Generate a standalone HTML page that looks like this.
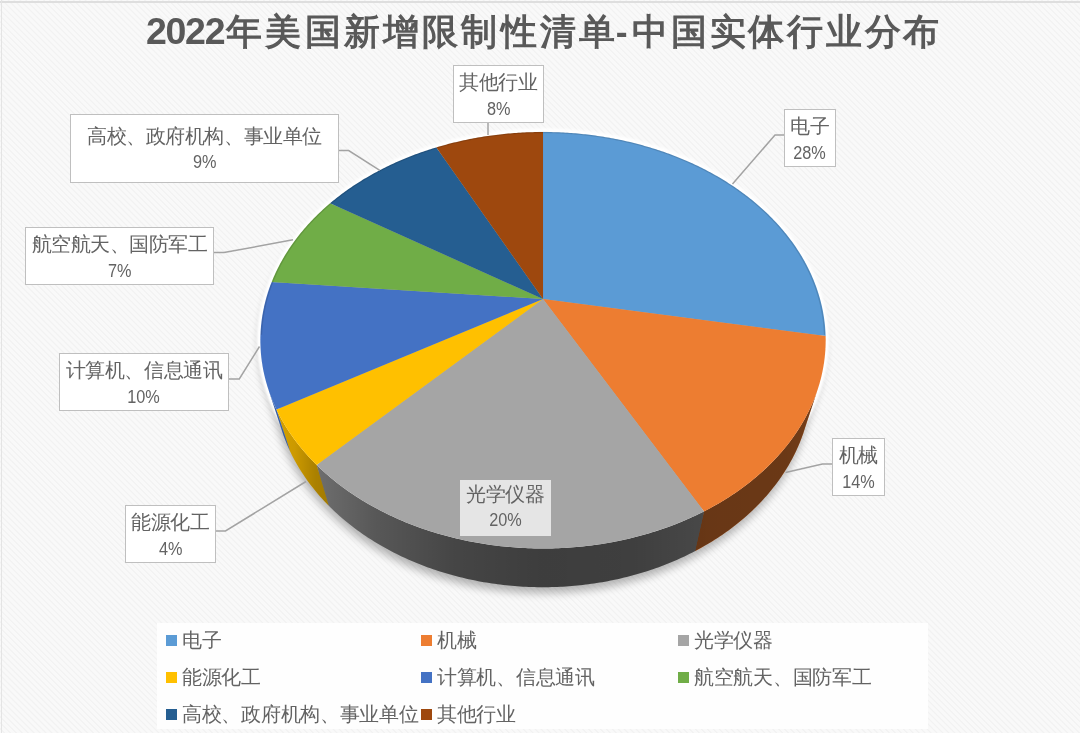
<!DOCTYPE html>
<html><head><meta charset="utf-8"><style>
html,body{margin:0;padding:0;}
body{width:1080px;height:733px;overflow:hidden;position:relative;font-family:"Liberation Sans",sans-serif;color:#595959;
background-color:#f8f8f8;
background-image:repeating-linear-gradient(45deg,#f9f9f9 0px,#f9f9f9 2.2px,#f2f2f2 2.9px,#f2f2f2 3.4px,#f9f9f9 4.2px);}
.bt{position:absolute;left:0;top:1px;width:1080px;height:2px;background:#dedede;}
.bl{position:absolute;left:0.5px;top:0;width:1.5px;height:733px;background:#e4e4e4;}
.title{position:absolute;left:146px;top:7.5px;font-size:35.5px;font-weight:bold;white-space:nowrap;line-height:46px;color:#595959;}
svg{position:absolute;left:0;top:0;}
.title,.lb,.li{filter:grayscale(1) blur(0.25px);}
.lb{position:absolute;box-sizing:border-box;border:1.5px solid #bfbfbf;background:#fff;text-align:center;white-space:nowrap;color:#636363;}
.lb .c{font-size:20px;letter-spacing:-0.45px;line-height:24px;height:24px;}
.lb .p{font-size:17.5px;line-height:24px;height:24px;margin-top:2.4px;}
.lb .p span{display:inline-block;transform:scaleX(0.93);}
.lg{position:absolute;left:157px;top:623px;width:771px;height:106px;background:#fefefe;}
.li{position:absolute;font-size:20px;letter-spacing:-0.3px;line-height:24px;white-space:nowrap;color:#636363;}
.mk{position:absolute;width:11px;height:11px;}
</style></head><body>
<div class="bt"></div><div class="bl"></div>
<div class="title"><span style="letter-spacing:-1.3px;font-size:37.5px;margin-right:2px">2022</span><span style="letter-spacing:3.2px">年美国新增限制性清单</span><span style="margin:0 4.5px 0 -2.5px">-</span><span style="letter-spacing:2.75px">中国实体行业分布</span></div>
<svg width="1080" height="733" viewBox="0 0 1080 733">
<defs><filter id="blur1" x="-10%" y="-10%" width="120%" height="130%"><feGaussianBlur stdDeviation="1"/></filter><filter id="blur" x="-10%" y="-10%" width="120%" height="130%"><feGaussianBlur stdDeviation="4"/></filter><linearGradient id="shade" gradientUnits="userSpaceOnUse" x1="268.30" y1="0" x2="817.73" y2="0"><stop offset="0.0012" stop-color="#000" stop-opacity="0.15"/><stop offset="0.0475" stop-color="#000" stop-opacity="0.2"/><stop offset="0.0854" stop-color="#000" stop-opacity="0.33"/><stop offset="0.1957" stop-color="#000" stop-opacity="0.47"/><stop offset="0.3386" stop-color="#000" stop-opacity="0.58"/><stop offset="0.5000" stop-color="#000" stop-opacity="0.63"/><stop offset="0.6614" stop-color="#000" stop-opacity="0.62"/><stop offset="0.8043" stop-color="#000" stop-opacity="0.56"/><stop offset="0.9426" stop-color="#000" stop-opacity="0.55"/><stop offset="0.9988" stop-color="#000" stop-opacity="0.5"/></linearGradient></defs>
<path d="M803.92,431.29 L803.30,433.15 L802.65,435.01 L801.98,436.87 L801.29,438.72 L800.57,440.58 L799.83,442.43 L799.06,444.28 L798.27,446.12 L797.46,447.96 L796.62,449.80 L795.76,451.64 L794.87,453.47 L793.96,455.30 L793.03,457.13 L792.07,458.95 L791.09,460.77 L790.08,462.58 L789.05,464.39 L788.00,466.19 L786.92,467.99 L785.82,469.78 L784.69,471.57 L783.54,473.35 L782.37,475.12 L781.17,476.89 L779.94,478.66 L778.70,480.41 L777.43,482.16 L776.13,483.91 L774.81,485.64 L773.47,487.37 L772.10,489.09 L770.71,490.80 L769.30,492.51 L767.86,494.20 L766.40,495.89 L764.91,497.57 L763.40,499.24 L761.87,500.90 L760.31,502.55 L758.73,504.19 L757.13,505.82 L755.50,507.45 L753.85,509.06 L752.18,510.66 L750.49,512.25 L748.77,513.83 L747.03,515.40 L745.27,516.95 L743.48,518.50 L741.67,520.03 L739.84,521.55 L737.99,523.06 L736.11,524.55 L734.22,526.04 L732.30,527.51 L730.36,528.96 L728.40,530.41 L726.42,531.84 L724.42,533.25 L722.39,534.66 L720.35,536.04 L718.28,537.42 L716.20,538.78 L714.09,540.12 L711.97,541.45 L709.82,542.76 L707.66,544.06 L705.47,545.34 L703.27,546.61 L701.04,547.86 L698.80,549.09 L696.54,550.31 L694.26,551.51 L691.97,552.70 L689.65,553.86 L687.32,555.01 L684.97,556.14 L682.60,557.26 L680.22,558.35 L677.82,559.43 L675.40,560.49 L672.97,561.53 L670.52,562.56 L668.05,563.56 L665.57,564.55 L663.08,565.51 L660.57,566.46 L658.04,567.39 L655.50,568.30 L652.95,569.19 L650.38,570.05 L647.80,570.90 L645.21,571.73 L642.60,572.54 L639.98,573.33 L637.35,574.10 L634.71,574.84 L632.05,575.57 L629.39,576.27 L626.71,576.96 L624.02,577.62 L621.33,578.26 L618.62,578.88 L615.90,579.48 L613.18,580.05 L610.44,580.61 L607.70,581.14 L604.94,581.65 L602.18,582.14 L599.42,582.61 L596.64,583.05 L593.86,583.47 L591.07,583.87 L588.28,584.25 L585.48,584.61 L582.67,584.94 L579.86,585.25 L577.04,585.53 L574.22,585.80 L571.40,586.04 L568.57,586.26 L565.74,586.45 L562.91,586.63 L560.07,586.78 L557.23,586.90 L554.39,587.01 L551.55,587.09 L548.71,587.14 L545.86,587.18 L543.02,587.19 L540.17,587.18 L537.33,587.14 L534.49,587.09 L531.64,587.01 L528.80,586.90 L525.96,586.78 L523.13,586.63 L520.29,586.45 L517.46,586.26 L514.63,586.04 L511.81,585.80 L508.99,585.53 L506.17,585.25 L503.36,584.94 L500.56,584.61 L497.76,584.25 L494.96,583.87 L492.17,583.47 L489.39,583.05 L486.62,582.61 L483.85,582.14 L481.09,581.65 L478.34,581.14 L475.59,580.61 L472.86,580.05 L470.13,579.48 L467.41,578.88 L464.71,578.26 L462.01,577.62 L459.32,576.96 L456.64,576.27 L453.98,575.57 L451.32,574.84 L448.68,574.10 L446.05,573.33 L443.43,572.54 L440.83,571.73 L438.23,570.90 L435.65,570.05 L433.08,569.19 L430.53,568.30 L427.99,567.39 L425.47,566.46 L422.96,565.51 L420.46,564.55 L417.98,563.56 L415.52,562.56 L413.07,561.53 L410.63,560.49 L408.22,559.43 L405.82,558.35 L403.43,557.26 L401.06,556.14 L398.71,555.01 L396.38,553.86 L394.07,552.70 L391.77,551.51 L389.49,550.31 L387.23,549.09 L384.99,547.86 L382.77,546.61 L380.56,545.34 L378.38,544.06 L376.21,542.76 L374.07,541.45 L371.94,540.12 L369.84,538.78 L367.75,537.42 L365.69,536.04 L363.64,534.66 L361.62,533.25 L359.61,531.84 L357.63,530.41 L355.67,528.96 L353.73,527.51 L351.81,526.04 L349.92,524.55 L348.04,523.06 L346.19,521.55 L344.36,520.03 L342.55,518.50 L340.77,516.95 L339.01,515.40 L337.26,513.83 L335.55,512.25 L333.85,510.66 L332.18,509.06 L330.53,507.45 L328.90,505.82 L327.30,504.19 L325.72,502.55 L324.17,500.90 L322.63,499.24 L321.12,497.57 L319.64,495.89 L318.18,494.20 L316.74,492.51 L315.32,490.80 L313.93,489.09 L312.56,487.37 L311.22,485.64 L309.90,483.91 L308.61,482.16 L307.34,480.41 L306.09,478.66 L304.87,476.89 L303.67,475.12 L302.49,473.35 L301.34,471.57 L300.21,469.78 L299.11,467.99 L298.03,466.19 L296.98,464.39 L295.95,462.58 L294.94,460.77 L293.96,458.95 L293.00,457.13 L292.07,455.30 L291.16,453.47 L290.28,451.64 L289.41,449.80 L288.58,447.96 L287.76,446.12 L286.97,444.28 L286.21,442.43 L285.47,440.58 L284.75,438.72 L284.05,436.87 L283.38,435.01 L282.74,433.15 L282.11,431.29 L268.30,389.24 L267.69,387.35 L267.11,385.46 L266.55,383.57 L266.02,381.67 L265.51,379.78 L265.02,377.89 L264.56,376.00 L264.13,374.11 L263.72,372.21 L263.33,370.32 L262.97,368.43 L262.63,366.54 L262.31,364.66 L262.02,362.77 L261.76,360.88 L261.51,359.00 L261.30,357.12 L261.10,355.24 L260.93,353.36 L260.78,351.48 L260.65,349.61 L260.55,347.74 L260.47,345.87 L260.41,344.01 L260.38,342.14 L260.37,340.29 L260.38,338.43 L260.41,336.58 L260.47,334.73 L260.54,332.88 L260.64,331.04 L260.76,329.20 L260.91,327.37 L261.07,325.54 L261.26,323.72 L261.47,321.90 L261.70,320.08 L261.95,318.27 L262.22,316.46 L262.51,314.66 L262.82,312.87 L263.15,311.08 L263.51,309.29 L263.88,307.51 L264.28,305.74 L264.69,303.97 L265.12,302.21 L265.58,300.45 L266.05,298.70 L266.54,296.95 L267.06,295.21 L267.59,293.48 L268.14,291.75 L268.71,290.03 L269.30,288.32 L269.90,286.61 L270.53,284.91 L271.17,283.22 L271.83,281.54 L272.51,279.86 L273.21,278.18 L273.93,276.52 L274.66,274.86 L275.41,273.21 L276.18,271.57 L276.97,269.93 L277.77,268.31 L278.59,266.69 L279.43,265.07 L280.28,263.47 L281.15,261.87 L282.04,260.28 L282.94,258.70 L283.86,257.13 L284.79,255.57 L285.74,254.01 L286.71,252.46 L287.69,250.92 L288.69,249.39 L289.70,247.87 L290.73,246.36 L291.77,244.85 L292.83,243.35 L293.90,241.87 L294.99,240.39 L296.09,238.92 L297.20,237.45 L298.33,236.00 L299.48,234.56 L300.64,233.12 L301.81,231.70 L302.99,230.28 L304.19,228.87 L305.40,227.47 L306.63,226.08 L307.87,224.70 L309.12,223.33 L310.38,221.97 L311.66,220.62 L312.95,219.28 L314.25,217.94 L315.57,216.62 L316.89,215.31 L318.23,214.00 L319.58,212.71 L320.95,211.42 L322.32,210.14 L323.71,208.88 L325.10,207.62 L326.51,206.38 L327.93,205.14 L329.36,203.91 L330.81,202.70 L332.26,201.49 L333.72,200.29 L335.20,199.10 L336.68,197.93 L338.18,196.76 L339.68,195.60 L341.20,194.45 L342.72,193.32 L344.26,192.19 L345.80,191.07 L347.35,189.97 L348.92,188.87 L350.49,187.78 L352.08,186.71 L353.67,185.64 L355.27,184.58 L356.88,183.54 L358.50,182.50 L360.12,181.48 L361.76,180.46 L363.40,179.46 L365.06,178.46 L366.72,177.48 L368.39,176.50 L370.07,175.54 L371.75,174.59 L373.45,173.64 L375.15,172.71 L376.86,171.79 L378.57,170.88 L380.30,169.98 L382.03,169.08 L383.76,168.20 L385.51,167.33 L387.26,166.47 L389.02,165.63 L390.79,164.79 L392.56,163.96 L394.34,163.14 L396.13,162.33 L397.92,161.54 L399.72,160.75 L401.52,159.98 L403.33,159.21 L405.15,158.46 L406.98,157.71 L408.80,156.98 L410.64,156.26 L412.48,155.54 L414.33,154.84 L416.18,154.15 L418.03,153.47 L419.90,152.80 L421.76,152.14 L423.63,151.49 L425.51,150.85 L427.39,150.22 L429.28,149.61 L431.17,149.00 L433.07,148.40 L434.97,147.82 L436.88,147.24 L438.79,146.68 L440.70,146.13 L442.62,145.58 L444.54,145.05 L446.47,144.53 L448.40,144.02 L450.33,143.52 L452.27,143.03 L454.21,142.55 L456.15,142.08 L458.10,141.62 L460.06,141.18 L462.01,140.74 L463.97,140.31 L465.93,139.90 L467.90,139.49 L469.86,139.10 L471.83,138.72 L473.81,138.34 L475.78,137.98 L477.76,137.63 L479.74,137.29 L481.73,136.96 L483.71,136.64 L485.70,136.33 L487.69,136.03 L489.69,135.74 L491.68,135.47 L493.68,135.20 L495.68,134.95 L497.68,134.70 L499.68,134.47 L501.69,134.24 L503.69,134.03 L505.70,133.83 L507.71,133.64 L509.72,133.45 L511.73,133.28 L513.74,133.12 L515.76,132.97 L517.77,132.84 L519.79,132.71 L521.80,132.59 L523.82,132.48 L525.84,132.39 L527.86,132.30 L529.88,132.23 L531.90,132.17 L533.92,132.11 L535.94,132.07 L537.96,132.04 L539.98,132.02 L542.01,132.01 L544.03,132.01 L546.05,132.02 L548.07,132.04 L550.09,132.07 L552.11,132.11 L554.13,132.17 L556.15,132.23 L558.17,132.30 L560.19,132.39 L562.21,132.48 L564.23,132.59 L566.25,132.71 L568.26,132.84 L570.28,132.97 L572.29,133.12 L574.30,133.28 L576.31,133.45 L578.33,133.64 L580.33,133.83 L582.34,134.03 L584.35,134.24 L586.35,134.47 L588.35,134.70 L590.36,134.95 L592.35,135.20 L594.35,135.47 L596.35,135.74 L598.34,136.03 L600.33,136.33 L602.32,136.64 L604.31,136.96 L606.29,137.29 L608.27,137.63 L610.25,137.98 L612.23,138.34 L614.20,138.72 L616.17,139.10 L618.14,139.49 L620.10,139.90 L622.06,140.31 L624.02,140.74 L625.98,141.18 L627.93,141.62 L629.88,142.08 L631.82,142.55 L633.77,143.03 L635.70,143.52 L637.64,144.02 L639.57,144.53 L641.49,145.05 L643.42,145.58 L645.33,146.13 L647.25,146.68 L649.16,147.24 L651.06,147.82 L652.96,148.40 L654.86,149.00 L656.75,149.61 L658.64,150.22 L660.52,150.85 L662.40,151.49 L664.27,152.14 L666.14,152.80 L668.00,153.47 L669.86,154.15 L671.71,154.84 L673.55,155.54 L675.39,156.26 L677.23,156.98 L679.06,157.71 L680.88,158.46 L682.70,159.21 L684.51,159.98 L686.31,160.75 L688.11,161.54 L689.91,162.33 L691.69,163.14 L693.47,163.96 L695.24,164.79 L697.01,165.63 L698.77,166.47 L700.52,167.33 L702.27,168.20 L704.01,169.08 L705.74,169.98 L707.46,170.88 L709.18,171.79 L710.89,172.71 L712.59,173.64 L714.28,174.59 L715.97,175.54 L717.64,176.50 L719.31,177.48 L720.98,178.46 L722.63,179.46 L724.27,180.46 L725.91,181.48 L727.54,182.50 L729.16,183.54 L730.77,184.58 L732.37,185.64 L733.96,186.71 L735.54,187.78 L737.11,188.87 L738.68,189.97 L740.23,191.07 L741.78,192.19 L743.31,193.32 L744.84,194.45 L746.35,195.60 L747.86,196.76 L749.35,197.93 L750.84,199.10 L752.31,200.29 L753.78,201.49 L755.23,202.70 L756.67,203.91 L758.10,205.14 L759.52,206.38 L760.93,207.62 L762.33,208.88 L763.71,210.14 L765.09,211.42 L766.45,212.71 L767.80,214.00 L769.14,215.31 L770.47,216.62 L771.78,217.94 L773.08,219.28 L774.37,220.62 L775.65,221.97 L776.91,223.33 L778.17,224.70 L779.40,226.08 L780.63,227.47 L781.84,228.87 L783.04,230.28 L784.23,231.70 L785.40,233.12 L786.56,234.56 L787.70,236.00 L788.83,237.45 L789.94,238.92 L791.05,240.39 L792.13,241.87 L793.21,243.35 L794.26,244.85 L795.31,246.36 L796.33,247.87 L797.35,249.39 L798.34,250.92 L799.32,252.46 L800.29,254.01 L801.24,255.57 L802.18,257.13 L803.09,258.70 L804.00,260.28 L804.88,261.87 L805.75,263.47 L806.61,265.07 L807.44,266.69 L808.26,268.31 L809.07,269.93 L809.85,271.57 L810.62,273.21 L811.37,274.86 L812.11,276.52 L812.82,278.18 L813.52,279.86 L814.20,281.54 L814.86,283.22 L815.51,284.91 L816.13,286.61 L816.74,288.32 L817.33,290.03 L817.90,291.75 L818.45,293.48 L818.98,295.21 L819.49,296.95 L819.98,298.70 L820.46,300.45 L820.91,302.21 L821.34,303.97 L821.76,305.74 L822.15,307.51 L822.53,309.29 L822.88,311.08 L823.21,312.87 L823.52,314.66 L823.82,316.46 L824.09,318.27 L824.34,320.08 L824.57,321.90 L824.77,323.72 L824.96,325.54 L825.13,327.37 L825.27,329.20 L825.39,331.04 L825.49,332.88 L825.57,334.73 L825.62,336.58 L825.66,338.43 L825.67,340.29 L825.66,342.14 L825.62,344.01 L825.56,345.87 L825.48,347.74 L825.38,349.61 L825.26,351.48 L825.11,353.36 L824.93,355.24 L824.74,357.12 L824.52,359.00 L824.28,360.88 L824.01,362.77 L823.72,364.66 L823.40,366.54 L823.07,368.43 L822.70,370.32 L822.32,372.21 L821.91,374.11 L821.47,376.00 L821.01,377.89 L820.53,379.78 L820.02,381.67 L819.48,383.57 L818.93,385.46 L818.34,387.35 L817.73,389.24Z" fill="#000" opacity="0.28" filter="url(#blur)" transform="translate(-1,6)"/>
<path d="M543.02,132.00 L545.03,132.01 L547.05,132.03 L549.07,132.05 L551.09,132.09 L553.10,132.14 L555.12,132.19 L557.14,132.26 L559.15,132.34 L561.17,132.43 L563.18,132.53 L565.20,132.65 L567.21,132.77 L569.22,132.90 L571.23,133.04 L573.24,133.20 L575.25,133.36 L577.26,133.54 L579.26,133.72 L581.27,133.92 L583.27,134.13 L585.27,134.34 L587.27,134.57 L589.27,134.81 L591.27,135.06 L593.26,135.32 L595.25,135.59 L597.24,135.87 L599.23,136.16 L601.22,136.47 L603.20,136.78 L605.19,137.10 L607.16,137.44 L609.14,137.78 L611.11,138.14 L613.09,138.50 L615.05,138.88 L617.02,139.27 L618.98,139.67 L620.94,140.07 L622.90,140.49 L624.85,140.92 L626.80,141.36 L628.75,141.81 L630.69,142.28 L632.63,142.75 L634.57,143.23 L636.50,143.72 L638.43,144.23 L640.36,144.74 L642.28,145.27 L644.20,145.80 L646.11,146.35 L648.02,146.91 L649.92,147.47 L651.82,148.05 L653.72,148.64 L655.61,149.24 L657.49,149.85 L659.38,150.47 L661.25,151.10 L663.12,151.74 L664.99,152.39 L666.85,153.06 L668.71,153.73 L670.56,154.41 L672.41,155.11 L674.25,155.81 L676.08,156.52 L677.91,157.25 L679.74,157.99 L681.55,158.73 L683.36,159.49 L685.17,160.26 L686.97,161.04 L688.76,161.82 L690.55,162.62 L692.33,163.43 L694.10,164.25 L695.87,165.08 L697.63,165.92 L699.39,166.77 L701.13,167.64 L702.87,168.51 L704.61,169.39 L706.33,170.28 L708.05,171.19 L709.76,172.10 L711.46,173.02 L713.16,173.96 L714.85,174.90 L716.53,175.86 L718.20,176.82 L719.86,177.80 L721.52,178.79 L723.16,179.78 L724.80,180.79 L726.43,181.80 L728.06,182.83 L729.67,183.87 L731.27,184.92 L732.87,185.97 L734.45,187.04 L736.03,188.12 L737.60,189.21 L739.16,190.30 L740.70,191.41 L742.24,192.53 L743.77,193.66 L745.29,194.80 L746.80,195.95 L748.30,197.10 L749.79,198.27 L751.27,199.45 L752.74,200.64 L754.20,201.84 L755.64,203.04 L757.08,204.26 L758.50,205.49 L759.92,206.73 L761.32,207.97 L762.71,209.23 L764.09,210.50 L765.46,211.77 L766.82,213.06 L768.16,214.35 L769.50,215.66 L770.82,216.97 L772.13,218.29 L773.42,219.63 L774.71,220.97 L775.98,222.32 L777.24,223.68 L778.48,225.05 L779.72,226.43 L780.94,227.82 L782.14,229.22 L783.34,230.63 L784.52,232.05 L785.68,233.47 L786.83,234.91 L787.97,236.35 L789.10,237.80 L790.21,239.26 L791.30,240.73 L792.38,242.21 L793.45,243.70 L794.50,245.20 L795.54,246.70 L796.56,248.21 L797.57,249.73 L798.56,251.27 L799.54,252.80 L800.50,254.35 L801.45,255.91 L802.37,257.47 L803.29,259.04 L804.19,260.62 L805.07,262.21 L805.93,263.80 L806.78,265.41 L807.61,267.02 L808.43,268.63 L809.22,270.26 L810.01,271.89 L810.77,273.54 L811.52,275.18 L812.24,276.84 L812.96,278.50 L813.65,280.17 L814.32,281.85 L814.98,283.53 L815.62,285.23 L816.24,286.92 L816.84,288.63 L817.43,290.34 L817.99,292.06 L818.54,293.78 L819.07,295.51 L819.57,297.25 L820.06,298.99 L820.53,300.74 L820.98,302.50 L821.41,304.26 L821.82,306.02 L822.21,307.79 L822.58,309.57 L822.93,311.36 L823.26,313.14 L823.57,314.94 L823.86,316.74 L824.13,318.54 L824.37,320.35 L824.60,322.16 L824.80,323.98 L824.99,325.80 L825.15,327.63 L825.29,329.46 L825.40,331.29 L825.50,333.13 L825.58,334.97 L825.63,336.82 L825.66,338.67 L825.67,340.52 L825.65,342.38 L825.61,344.24 L825.56,346.10 L825.47,347.96 L825.37,349.83 L825.24,351.70 L825.09,353.57 L824.91,355.45 L824.72,357.32 L824.49,359.20 L824.25,361.08 L823.98,362.97 L823.69,364.85 L823.37,366.73 L823.03,368.62 L822.67,370.51 L822.28,372.39 L821.87,374.28 L821.43,376.17 L820.97,378.06 L820.48,379.95 L819.97,381.84 L819.44,383.73 L818.88,385.61 L818.29,387.50 L817.69,389.39 L817.05,391.27 L816.39,393.16 L815.71,395.04 L815.00,396.92 L814.27,398.80 L813.51,400.68 L812.72,402.55 L811.91,404.43 L811.08,406.30 L810.21,408.16 L809.33,410.03 L808.42,411.89 L807.48,413.75 L806.52,415.60 L805.53,417.45 L804.51,419.30 L803.47,421.14 L802.41,422.98 L801.32,424.81 L800.20,426.64 L799.06,428.46 L797.89,430.28 L796.69,432.09 L795.47,433.90 L794.23,435.70 L792.96,437.49 L791.66,439.28 L790.34,441.06 L788.99,442.84 L787.62,444.60 L786.22,446.36 L784.79,448.12 L783.35,449.86 L781.87,451.60 L780.37,453.33 L778.84,455.05 L777.29,456.76 L775.71,458.46 L774.11,460.15 L772.49,461.84 L770.83,463.51 L769.16,465.18 L767.46,466.83 L765.73,468.48 L763.98,470.11 L762.20,471.73 L760.40,473.35 L758.58,474.95 L756.73,476.54 L754.86,478.11 L752.96,479.68 L751.04,481.23 L749.10,482.77 L747.13,484.30 L745.14,485.82 L743.13,487.32 L741.09,488.81 L739.03,490.29 L736.94,491.75 L734.84,493.20 L732.71,494.63 L730.56,496.05 L728.39,497.46 L726.19,498.85 L723.98,500.22 L721.74,501.58 L719.48,502.93 L717.20,504.26 L714.90,505.57 L712.57,506.87 L710.23,508.15 L707.87,509.41 L705.48,510.66 L703.08,511.89 L700.66,513.10 L698.22,514.30 L695.76,515.47 L693.28,516.63 L690.78,517.78 L688.26,518.90 L685.73,520.00 L683.17,521.09 L680.60,522.16 L678.02,523.21 L675.41,524.24 L672.79,525.25 L670.16,526.24 L667.50,527.21 L664.83,528.16 L662.15,529.10 L659.45,530.01 L656.74,530.90 L654.01,531.77 L651.26,532.62 L648.51,533.45 L645.74,534.26 L642.95,535.05 L640.16,535.81 L637.35,536.56 L634.53,537.28 L631.69,537.98 L628.85,538.66 L625.99,539.32 L623.12,539.96 L620.25,540.57 L617.36,541.16 L614.46,541.73 L611.56,542.28 L608.64,542.81 L605.72,543.31 L602.79,543.79 L599.85,544.24 L596.90,544.68 L593.95,545.09 L590.99,545.48 L588.02,545.84 L585.05,546.18 L582.07,546.50 L579.08,546.80 L576.09,547.07 L573.10,547.31 L570.10,547.54 L567.10,547.74 L564.10,547.92 L561.09,548.07 L558.08,548.20 L555.07,548.31 L552.06,548.39 L549.05,548.45 L546.03,548.49 L543.02,548.50 L540.00,548.49 L536.99,548.45 L533.97,548.39 L530.96,548.31 L527.95,548.20 L524.94,548.07 L521.93,547.92 L518.93,547.74 L515.93,547.54 L512.93,547.31 L509.94,547.07 L506.95,546.80 L503.97,546.50 L500.99,546.18 L498.02,545.84 L495.05,545.48 L492.09,545.09 L489.13,544.68 L486.19,544.24 L483.25,543.79 L480.31,543.31 L477.39,542.81 L474.48,542.28 L471.57,541.73 L468.67,541.16 L465.79,540.57 L462.91,539.96 L460.04,539.32 L457.19,538.66 L454.34,537.98 L451.51,537.28 L448.69,536.56 L445.88,535.81 L443.08,535.05 L440.30,534.26 L437.53,533.45 L434.77,532.62 L432.03,531.77 L429.30,530.90 L426.58,530.01 L423.88,529.10 L421.20,528.16 L418.53,527.21 L415.88,526.24 L413.24,525.25 L410.62,524.24 L408.02,523.21 L405.43,522.16 L402.86,521.09 L400.31,520.00 L397.77,518.90 L395.25,517.78 L392.76,516.63 L390.28,515.47 L387.82,514.30 L385.37,513.10 L382.95,511.89 L380.55,510.66 L378.17,509.41 L375.80,508.15 L373.46,506.87 L371.14,505.57 L368.84,504.26 L366.56,502.93 L364.30,501.58 L362.06,500.22 L359.84,498.85 L357.65,497.46 L355.47,496.05 L353.32,494.63 L351.19,493.20 L349.09,491.75 L347.01,490.29 L344.94,488.81 L342.91,487.32 L340.89,485.82 L338.90,484.30 L336.93,482.77 L334.99,481.23 L333.07,479.68 L331.17,478.11 L329.30,476.54 L327.45,474.95 L325.63,473.35 L323.83,471.73 L322.05,470.11 L320.30,468.48 L318.58,466.83 L316.88,465.18 L315.20,463.51 L313.55,461.84 L311.92,460.15 L310.32,458.46 L308.74,456.76 L307.19,455.05 L305.66,453.33 L304.16,451.60 L302.69,449.86 L301.24,448.12 L299.81,446.36 L298.41,444.60 L297.04,442.84 L295.69,441.06 L294.37,439.28 L293.07,437.49 L291.80,435.70 L290.56,433.90 L289.34,432.09 L288.14,430.28 L286.98,428.46 L285.83,426.64 L284.72,424.81 L283.63,422.98 L282.56,421.14 L281.52,419.30 L280.51,417.45 L279.52,415.60 L278.55,413.75 L277.62,411.89 L276.71,410.03 L275.82,408.16 L274.96,406.30 L274.12,404.43 L273.31,402.55 L272.53,400.68 L271.77,398.80 L271.03,396.92 L270.32,395.04 L269.64,393.16 L268.98,391.27 L268.35,389.39 L267.74,387.50 L267.15,385.61 L266.59,383.73 L266.06,381.84 L265.55,379.95 L265.06,378.06 L264.60,376.17 L264.17,374.28 L263.75,372.39 L263.37,370.51 L263.00,368.62 L262.66,366.73 L262.35,364.85 L262.05,362.97 L261.78,361.08 L261.54,359.20 L261.32,357.32 L261.12,355.45 L260.95,353.57 L260.79,351.70 L260.67,349.83 L260.56,347.96 L260.48,346.10 L260.42,344.24 L260.38,342.38 L260.37,340.52 L260.37,338.67 L260.41,336.82 L260.46,334.97 L260.53,333.13 L260.63,331.29 L260.75,329.46 L260.89,327.63 L261.05,325.80 L261.23,323.98 L261.44,322.16 L261.66,320.35 L261.91,318.54 L262.17,316.74 L262.46,314.94 L262.77,313.14 L263.10,311.36 L263.45,309.57 L263.82,307.79 L264.21,306.02 L264.62,304.26 L265.05,302.50 L265.50,300.74 L265.97,298.99 L266.46,297.25 L266.97,295.51 L267.49,293.78 L268.04,292.06 L268.60,290.34 L269.19,288.63 L269.79,286.92 L270.41,285.23 L271.05,283.53 L271.71,281.85 L272.38,280.17 L273.08,278.50 L273.79,276.84 L274.52,275.18 L275.26,273.54 L276.03,271.89 L276.81,270.26 L277.61,268.63 L278.42,267.02 L279.25,265.41 L280.10,263.80 L280.97,262.21 L281.85,260.62 L282.75,259.04 L283.66,257.47 L284.59,255.91 L285.53,254.35 L286.49,252.80 L287.47,251.27 L288.46,249.73 L289.47,248.21 L290.49,246.70 L291.53,245.20 L292.58,243.70 L293.65,242.21 L294.73,240.73 L295.83,239.26 L296.94,237.80 L298.06,236.35 L299.20,234.91 L300.35,233.47 L301.52,232.05 L302.70,230.63 L303.89,229.22 L305.10,227.82 L306.32,226.43 L307.55,225.05 L308.80,223.68 L310.06,222.32 L311.33,220.97 L312.61,219.63 L313.91,218.29 L315.22,216.97 L316.54,215.66 L317.87,214.35 L319.22,213.06 L320.57,211.77 L321.94,210.50 L323.32,209.23 L324.71,207.97 L326.12,206.73 L327.53,205.49 L328.96,204.26 L330.39,203.04 L331.84,201.84 L333.30,200.64 L334.76,199.45 L336.24,198.27 L337.73,197.10 L339.23,195.95 L340.74,194.80 L342.26,193.66 L343.79,192.53 L345.33,191.41 L346.88,190.30 L348.44,189.21 L350.00,188.12 L351.58,187.04 L353.17,185.97 L354.76,184.92 L356.37,183.87 L357.98,182.83 L359.60,181.80 L361.23,180.79 L362.87,179.78 L364.52,178.79 L366.17,177.80 L367.84,176.82 L369.51,175.86 L371.19,174.90 L372.88,173.96 L374.57,173.02 L376.27,172.10 L377.98,171.19 L379.70,170.28 L381.43,169.39 L383.16,168.51 L384.90,167.64 L386.65,166.77 L388.40,165.92 L390.16,165.08 L391.93,164.25 L393.70,163.43 L395.48,162.62 L397.27,161.82 L399.06,161.04 L400.86,160.26 L402.67,159.49 L404.48,158.73 L406.30,157.99 L408.12,157.25 L409.95,156.52 L411.79,155.81 L413.63,155.11 L415.47,154.41 L417.32,153.73 L419.18,153.06 L421.04,152.39 L422.91,151.74 L424.78,151.10 L426.66,150.47 L428.54,149.85 L430.43,149.24 L432.32,148.64 L434.21,148.05 L436.11,147.47 L438.02,146.91 L439.93,146.35 L441.84,145.80 L443.76,145.27 L445.68,144.74 L447.60,144.23 L449.53,143.72 L451.46,143.23 L453.40,142.75 L455.34,142.28 L457.28,141.81 L459.23,141.36 L461.18,140.92 L463.13,140.49 L465.09,140.07 L467.05,139.67 L469.01,139.27 L470.98,138.88 L472.95,138.50 L474.92,138.14 L476.89,137.78 L478.87,137.44 L480.85,137.10 L482.83,136.78 L484.81,136.47 L486.80,136.16 L488.79,135.87 L490.78,135.59 L492.77,135.32 L494.77,135.06 L496.76,134.81 L498.76,134.57 L500.76,134.34 L502.76,134.13 L504.77,133.92 L506.77,133.72 L508.78,133.54 L510.78,133.36 L512.79,133.20 L514.80,133.04 L516.81,132.90 L518.82,132.77 L520.84,132.65 L522.85,132.53 L524.87,132.43 L526.88,132.34 L528.90,132.26 L530.91,132.19 L532.93,132.14 L534.95,132.09 L536.96,132.05 L538.98,132.03 L541.00,132.01 L543.02,132.00Z" fill="none" stroke="#fff" stroke-width="7" opacity="1" filter="url(#blur1)"/>
<path d="M817.73,389.24 L817.10,391.14 L816.43,393.04 L815.74,394.95 L815.03,396.84 L814.29,398.74 L813.52,400.64 L812.73,402.53 L811.91,404.42 L811.07,406.31 L810.20,408.19 L809.30,410.08 L808.38,411.95 L807.44,413.83 L806.46,415.70 L805.46,417.57 L804.44,419.43 L803.39,421.29 L802.31,423.15 L801.20,425.00 L800.07,426.84 L798.92,428.68 L797.73,430.52 L796.53,432.35 L795.29,434.17 L794.03,435.98 L792.74,437.79 L791.43,439.60 L790.09,441.40 L788.72,443.19 L787.33,444.97 L785.91,446.74 L784.47,448.51 L783.00,450.27 L781.50,452.02 L779.98,453.77 L778.44,455.50 L776.86,457.22 L775.26,458.94 L773.64,460.65 L771.99,462.35 L770.32,464.03 L768.61,465.71 L766.89,467.38 L765.14,469.03 L763.36,470.68 L761.56,472.31 L759.74,473.94 L757.88,475.55 L756.01,477.15 L754.11,478.74 L752.19,480.31 L750.24,481.88 L748.26,483.43 L746.27,484.96 L744.25,486.49 L742.20,488.00 L740.14,489.50 L738.05,490.98 L735.93,492.45 L733.79,493.91 L731.63,495.35 L729.45,496.77 L727.25,498.18 L725.02,499.58 L722.77,500.96 L720.50,502.32 L718.21,503.67 L715.89,505.00 L713.56,506.32 L711.20,507.62 L708.82,508.90 L706.43,510.17 L704.01,511.42 L695.06,551.09 L697.35,549.88 L699.63,548.64 L701.88,547.39 L704.12,546.12 L706.33,544.84 L708.53,543.54 L710.71,542.22 L712.86,540.89 L715.00,539.55 L717.11,538.18 L719.21,536.81 L721.28,535.41 L723.34,534.01 L725.37,532.58 L727.38,531.15 L729.37,529.70 L731.34,528.24 L733.28,526.76 L735.21,525.27 L737.11,523.77 L738.99,522.25 L740.84,520.72 L742.68,519.18 L744.49,517.63 L746.28,516.06 L748.04,514.49 L749.79,512.90 L751.50,511.30 L753.20,509.69 L754.87,508.06 L756.52,506.43 L758.15,504.79 L759.75,503.14 L761.33,501.47 L762.88,499.80 L764.41,498.12 L765.92,496.43 L767.40,494.73 L768.86,493.02 L770.30,491.30 L771.71,489.58 L773.09,487.85 L774.46,486.10 L775.79,484.36 L777.11,482.60 L778.39,480.84 L779.66,479.06 L780.90,477.29 L782.11,475.50 L783.30,473.71 L784.47,471.92 L785.61,470.12 L786.73,468.31 L787.82,466.49 L788.89,464.68 L789.93,462.85 L790.95,461.02 L791.94,459.19 L792.91,457.35 L793.86,455.51 L794.78,453.67 L795.67,451.82 L796.54,449.97 L797.39,448.11 L798.21,446.25 L799.01,444.39 L799.79,442.53 L800.53,440.66 L801.26,438.79 L801.96,436.92 L802.64,435.05 L803.29,433.17 L803.92,431.29Z" fill="#ED7D31"/>
<path d="M704.01,511.42 L701.58,512.64 L699.14,513.85 L696.68,515.04 L694.20,516.21 L691.70,517.36 L689.18,518.49 L686.64,519.61 L684.08,520.71 L681.51,521.79 L678.92,522.85 L676.31,523.89 L673.69,524.91 L671.05,525.91 L668.39,526.89 L665.72,527.85 L663.03,528.79 L660.32,529.72 L657.60,530.62 L654.87,531.50 L652.12,532.36 L649.36,533.20 L646.58,534.01 L643.79,534.81 L640.99,535.59 L638.18,536.34 L635.35,537.07 L632.51,537.78 L629.66,538.47 L626.79,539.14 L623.92,539.78 L621.04,540.41 L618.14,541.01 L615.24,541.58 L612.32,542.14 L609.40,542.67 L606.47,543.18 L603.53,543.67 L600.58,544.13 L597.62,544.57 L594.66,544.99 L591.69,545.39 L588.71,545.76 L585.73,546.11 L582.74,546.43 L579.75,546.73 L576.75,547.01 L573.75,547.26 L570.74,547.49 L567.73,547.70 L564.72,547.88 L561.70,548.04 L558.68,548.18 L555.66,548.29 L552.64,548.38 L549.61,548.44 L546.59,548.48 L543.56,548.50 L540.54,548.49 L537.51,548.46 L534.49,548.40 L531.46,548.32 L528.44,548.22 L525.42,548.09 L522.40,547.94 L519.39,547.77 L516.38,547.57 L513.37,547.35 L510.36,547.10 L507.36,546.83 L504.37,546.54 L501.38,546.23 L498.39,545.89 L495.42,545.52 L492.44,545.14 L489.48,544.73 L486.52,544.29 L483.57,543.84 L480.62,543.36 L477.69,542.86 L474.76,542.33 L471.85,541.79 L468.94,541.22 L466.04,540.63 L463.15,540.01 L460.27,539.37 L457.41,538.72 L454.55,538.03 L451.71,537.33 L448.88,536.61 L446.06,535.86 L443.25,535.09 L440.45,534.30 L437.67,533.49 L434.91,532.66 L432.15,531.81 L429.41,530.94 L426.69,530.04 L423.98,529.13 L421.28,528.19 L418.61,527.24 L415.94,526.26 L413.30,525.27 L410.66,524.26 L408.05,523.22 L405.45,522.17 L402.88,521.10 L400.31,520.01 L397.77,518.90 L395.24,517.77 L392.74,516.62 L390.25,515.46 L387.78,514.28 L385.33,513.08 L382.90,511.86 L380.49,510.63 L378.10,509.37 L375.73,508.10 L373.37,506.82 L371.05,505.52 L368.74,504.20 L366.45,502.87 L364.18,501.52 L361.94,500.15 L359.71,498.77 L357.51,497.37 L355.33,495.96 L353.18,494.54 L351.04,493.10 L348.93,491.64 L346.84,490.17 L344.78,488.69 L342.73,487.19 L340.71,485.68 L338.72,484.16 L336.75,482.63 L334.80,481.08 L332.87,479.52 L330.97,477.94 L329.09,476.36 L327.24,474.76 L325.41,473.16 L323.61,471.54 L321.83,469.91 L320.08,468.27 L318.35,466.61 L316.65,464.95 L328.77,505.69 L330.40,507.32 L332.05,508.93 L333.73,510.54 L335.43,512.14 L337.15,513.72 L338.89,515.29 L340.66,516.86 L342.45,518.41 L344.26,519.94 L346.09,521.47 L347.95,522.98 L349.83,524.48 L351.73,525.97 L353.65,527.45 L355.60,528.91 L357.56,530.36 L359.55,531.79 L361.56,533.21 L363.59,534.62 L365.64,536.01 L367.71,537.39 L369.80,538.75 L371.91,540.10 L374.04,541.43 L376.19,542.75 L378.37,544.05 L380.56,545.34 L382.77,546.61 L385.00,547.86 L387.25,549.10 L389.51,550.32 L391.80,551.53 L394.10,552.71 L396.42,553.88 L398.76,555.04 L401.12,556.17 L403.50,557.29 L405.89,558.39 L408.30,559.47 L410.72,560.53 L413.16,561.57 L415.62,562.60 L418.09,563.61 L420.58,564.59 L423.08,565.56 L425.60,566.51 L428.14,567.44 L430.68,568.35 L433.24,569.24 L435.82,570.11 L438.41,570.96 L441.01,571.79 L443.63,572.60 L446.25,573.39 L448.89,574.16 L451.55,574.90 L454.21,575.63 L456.88,576.33 L459.57,577.02 L462.26,577.68 L464.97,578.32 L467.69,578.94 L470.41,579.54 L473.15,580.11 L475.89,580.67 L478.65,581.20 L481.41,581.71 L484.18,582.20 L486.95,582.66 L489.74,583.11 L492.53,583.53 L495.33,583.92 L498.13,584.30 L500.94,584.65 L503.75,584.98 L506.57,585.29 L509.40,585.57 L512.23,585.84 L515.06,586.07 L517.90,586.29 L520.74,586.48 L523.58,586.65 L526.43,586.80 L529.27,586.92 L532.12,587.02 L534.97,587.10 L537.83,587.15 L540.68,587.18 L543.53,587.19 L546.38,587.17 L549.24,587.14 L552.09,587.07 L554.94,586.99 L557.79,586.88 L560.63,586.75 L563.48,586.59 L566.32,586.42 L569.16,586.21 L571.99,585.99 L574.83,585.74 L577.65,585.47 L580.48,585.18 L583.29,584.87 L586.11,584.53 L588.92,584.17 L591.72,583.78 L594.51,583.38 L597.30,582.95 L600.08,582.50 L602.86,582.02 L605.62,581.53 L608.38,581.01 L611.13,580.47 L613.87,579.91 L616.60,579.32 L619.33,578.72 L622.04,578.09 L624.74,577.44 L627.43,576.77 L630.12,576.08 L632.79,575.37 L635.45,574.64 L638.09,573.88 L640.73,573.11 L643.35,572.31 L645.96,571.49 L648.56,570.66 L651.14,569.80 L653.71,568.92 L656.27,568.02 L658.81,567.11 L661.34,566.17 L663.85,565.22 L666.35,564.24 L668.84,563.25 L671.30,562.23 L673.75,561.20 L676.19,560.15 L678.61,559.08 L681.01,557.99 L683.40,556.89 L685.76,555.76 L688.12,554.62 L690.45,553.46 L692.76,552.29 L695.06,551.09Z" fill="#A5A5A5"/>
<path d="M316.65,464.95 L314.96,463.28 L313.31,461.59 L311.67,459.90 L310.07,458.19 L308.49,456.48 L306.93,454.75 L305.40,453.02 L303.89,451.28 L302.42,449.54 L300.96,447.78 L299.53,446.02 L298.13,444.24 L296.76,442.46 L295.41,440.68 L294.08,438.89 L292.78,437.09 L291.51,435.28 L290.27,433.47 L289.05,431.65 L287.85,429.83 L286.68,428.00 L285.54,426.16 L284.42,424.32 L283.33,422.48 L282.27,420.63 L281.23,418.77 L280.22,416.92 L279.23,415.05 L278.27,413.19 L277.34,411.32 L276.43,409.45 L290.07,451.20 L290.95,453.04 L291.86,454.88 L292.79,456.72 L293.75,458.55 L294.73,460.38 L295.74,462.20 L296.77,464.02 L297.82,465.83 L298.90,467.64 L300.00,469.44 L301.13,471.24 L302.28,473.03 L303.46,474.82 L304.66,476.60 L305.89,478.37 L307.14,480.14 L308.41,481.90 L309.71,483.65 L311.03,485.39 L312.38,487.13 L313.75,488.86 L315.14,490.58 L316.56,492.30 L318.00,494.00 L319.47,495.70 L320.96,497.39 L322.48,499.07 L324.01,500.74 L325.58,502.40 L327.16,504.05 L328.77,505.69Z" fill="#FFC000"/>
<path d="M276.43,409.45 L275.48,407.44 L274.57,405.43 L273.68,403.41 L272.82,401.39 L272.00,399.37 L271.20,397.35 L270.43,395.32 L269.69,393.30 L268.98,391.27 L268.30,389.24 L282.11,431.29 L282.79,433.30 L283.48,435.29 L284.21,437.29 L284.96,439.29 L285.75,441.28 L286.55,443.27 L287.39,445.26 L288.25,447.24 L289.15,449.22 L290.07,451.20Z" fill="#4472C4"/>
<path d="M817.73,389.24 L817.10,391.13 L816.44,393.01 L815.76,394.90 L815.05,396.78 L814.32,398.66 L813.56,400.54 L812.78,402.41 L811.97,404.29 L811.14,406.16 L810.28,408.03 L809.39,409.89 L808.48,411.76 L807.55,413.61 L806.58,415.47 L805.60,417.32 L804.58,419.17 L803.54,421.01 L802.48,422.85 L801.39,424.69 L800.27,426.52 L799.13,428.34 L797.97,430.16 L796.77,431.97 L795.55,433.78 L794.31,435.58 L793.04,437.38 L791.74,439.17 L790.42,440.95 L789.08,442.73 L787.70,444.50 L786.30,446.26 L784.88,448.01 L783.43,449.76 L781.96,451.50 L780.46,453.23 L778.93,454.95 L777.38,456.66 L775.80,458.37 L774.20,460.06 L772.58,461.75 L770.92,463.42 L769.25,465.09 L767.55,466.75 L765.82,468.39 L764.07,470.03 L762.30,471.65 L760.50,473.26 L758.67,474.87 L756.82,476.46 L754.95,478.04 L753.05,479.60 L751.13,481.16 L749.19,482.70 L747.22,484.23 L745.23,485.75 L743.22,487.25 L741.18,488.75 L739.12,490.22 L737.04,491.69 L734.93,493.14 L732.80,494.57 L730.65,495.99 L728.48,497.40 L726.28,498.79 L724.06,500.17 L721.83,501.53 L719.57,502.88 L717.28,504.21 L714.98,505.52 L712.66,506.82 L710.32,508.10 L707.95,509.37 L705.57,510.61 L703.16,511.85 L700.74,513.06 L698.30,514.26 L695.84,515.44 L693.36,516.60 L690.86,517.74 L688.34,518.86 L685.80,519.97 L683.25,521.06 L680.68,522.13 L678.09,523.18 L675.49,524.21 L672.86,525.22 L670.23,526.21 L667.57,527.19 L664.90,528.14 L662.22,529.07 L659.51,529.99 L656.80,530.88 L654.07,531.75 L651.32,532.60 L648.57,533.43 L645.79,534.24 L643.01,535.03 L640.21,535.80 L637.40,536.54 L634.58,537.27 L631.74,537.97 L628.90,538.65 L626.04,539.31 L623.17,539.95 L620.29,540.56 L617.40,541.16 L614.51,541.73 L611.60,542.27 L608.68,542.80 L605.76,543.30 L602.82,543.78 L599.88,544.24 L596.93,544.67 L593.98,545.08 L591.01,545.47 L588.04,545.84 L585.07,546.18 L582.09,546.50 L579.10,546.79 L576.11,547.06 L573.12,547.31 L570.12,547.54 L567.12,547.74 L564.11,547.92 L561.10,548.07 L558.09,548.20 L555.08,548.31 L552.07,548.39 L549.05,548.45 L546.03,548.49 L543.02,548.50 L540.00,548.49 L536.98,548.45 L533.97,548.39 L530.95,548.31 L527.94,548.20 L524.93,548.07 L521.92,547.92 L518.92,547.74 L515.91,547.54 L512.91,547.31 L509.92,547.06 L506.93,546.79 L503.94,546.50 L500.96,546.18 L497.99,545.84 L495.02,545.47 L492.06,545.08 L489.10,544.67 L486.15,544.24 L483.21,543.78 L480.28,543.30 L477.35,542.80 L474.44,542.27 L471.53,541.73 L468.63,541.16 L465.74,540.56 L462.86,539.95 L459.99,539.31 L457.14,538.65 L454.29,537.97 L451.46,537.27 L448.63,536.54 L445.82,535.80 L443.02,535.03 L440.24,534.24 L437.47,533.43 L434.71,532.60 L431.96,531.75 L429.23,530.88 L426.52,529.99 L423.82,529.07 L421.13,528.14 L418.46,527.19 L415.81,526.21 L413.17,525.22 L410.55,524.21 L407.94,523.18 L405.35,522.13 L402.78,521.06 L400.23,519.97 L397.69,518.86 L395.18,517.74 L392.68,516.60 L390.20,515.44 L387.73,514.26 L385.29,513.06 L382.87,511.85 L380.47,510.61 L378.08,509.37 L375.72,508.10 L373.37,506.82 L371.05,505.52 L368.75,504.21 L366.47,502.88 L364.21,501.53 L361.97,500.17 L359.75,498.79 L357.56,497.40 L355.38,495.99 L353.23,494.57 L351.10,493.14 L349.00,491.69 L346.91,490.22 L344.85,488.75 L342.82,487.25 L340.80,485.75 L338.81,484.23 L336.84,482.70 L334.90,481.16 L332.98,479.60 L331.08,478.04 L329.21,476.46 L327.36,474.87 L325.54,473.26 L323.74,471.65 L321.96,470.03 L320.21,468.39 L318.49,466.75 L316.78,465.09 L315.11,463.42 L313.46,461.75 L311.83,460.06 L310.23,458.37 L308.65,456.66 L307.10,454.95 L305.58,453.23 L304.08,451.50 L302.60,449.76 L301.15,448.01 L299.73,446.26 L298.33,444.50 L296.96,442.73 L295.61,440.95 L294.29,439.17 L292.99,437.38 L291.72,435.58 L290.48,433.78 L289.26,431.97 L288.07,430.16 L286.90,428.34 L285.76,426.52 L284.64,424.69 L283.55,422.85 L282.49,421.01 L281.45,419.17 L280.44,417.32 L279.45,415.47 L278.49,413.61 L277.55,411.76 L276.64,409.89 L275.76,408.03 L274.90,406.16 L274.06,404.29 L273.25,402.41 L272.47,400.54 L271.71,398.66 L270.98,396.78 L270.27,394.90 L269.59,393.01 L268.93,391.13 L268.30,389.24 L282.11,431.29 L282.74,433.15 L283.38,435.01 L284.05,436.87 L284.75,438.72 L285.47,440.58 L286.21,442.43 L286.97,444.28 L287.76,446.12 L288.58,447.96 L289.41,449.80 L290.28,451.64 L291.16,453.47 L292.07,455.30 L293.00,457.13 L293.96,458.95 L294.94,460.77 L295.95,462.58 L296.98,464.39 L298.03,466.19 L299.11,467.99 L300.21,469.78 L301.34,471.57 L302.49,473.35 L303.67,475.12 L304.87,476.89 L306.09,478.66 L307.34,480.41 L308.61,482.16 L309.90,483.91 L311.22,485.64 L312.56,487.37 L313.93,489.09 L315.32,490.80 L316.74,492.51 L318.18,494.20 L319.64,495.89 L321.12,497.57 L322.63,499.24 L324.17,500.90 L325.72,502.55 L327.30,504.19 L328.90,505.82 L330.53,507.45 L332.18,509.06 L333.85,510.66 L335.55,512.25 L337.26,513.83 L339.01,515.40 L340.77,516.95 L342.55,518.50 L344.36,520.03 L346.19,521.55 L348.04,523.06 L349.92,524.55 L351.81,526.04 L353.73,527.51 L355.67,528.96 L357.63,530.41 L359.61,531.84 L361.62,533.25 L363.64,534.66 L365.69,536.04 L367.75,537.42 L369.84,538.78 L371.94,540.12 L374.07,541.45 L376.21,542.76 L378.38,544.06 L380.56,545.34 L382.77,546.61 L384.99,547.86 L387.23,549.09 L389.49,550.31 L391.77,551.51 L394.07,552.70 L396.38,553.86 L398.71,555.01 L401.06,556.14 L403.43,557.26 L405.82,558.35 L408.22,559.43 L410.63,560.49 L413.07,561.53 L415.52,562.56 L417.98,563.56 L420.46,564.55 L422.96,565.51 L425.47,566.46 L427.99,567.39 L430.53,568.30 L433.08,569.19 L435.65,570.05 L438.23,570.90 L440.83,571.73 L443.43,572.54 L446.05,573.33 L448.68,574.10 L451.32,574.84 L453.98,575.57 L456.64,576.27 L459.32,576.96 L462.01,577.62 L464.71,578.26 L467.41,578.88 L470.13,579.48 L472.86,580.05 L475.59,580.61 L478.34,581.14 L481.09,581.65 L483.85,582.14 L486.62,582.61 L489.39,583.05 L492.17,583.47 L494.96,583.87 L497.76,584.25 L500.56,584.61 L503.36,584.94 L506.17,585.25 L508.99,585.53 L511.81,585.80 L514.63,586.04 L517.46,586.26 L520.29,586.45 L523.13,586.63 L525.96,586.78 L528.80,586.90 L531.64,587.01 L534.49,587.09 L537.33,587.14 L540.17,587.18 L543.02,587.19 L545.86,587.18 L548.71,587.14 L551.55,587.09 L554.39,587.01 L557.23,586.90 L560.07,586.78 L562.91,586.63 L565.74,586.45 L568.57,586.26 L571.40,586.04 L574.22,585.80 L577.04,585.53 L579.86,585.25 L582.67,584.94 L585.48,584.61 L588.28,584.25 L591.07,583.87 L593.86,583.47 L596.64,583.05 L599.42,582.61 L602.18,582.14 L604.94,581.65 L607.70,581.14 L610.44,580.61 L613.18,580.05 L615.90,579.48 L618.62,578.88 L621.33,578.26 L624.02,577.62 L626.71,576.96 L629.39,576.27 L632.05,575.57 L634.71,574.84 L637.35,574.10 L639.98,573.33 L642.60,572.54 L645.21,571.73 L647.80,570.90 L650.38,570.05 L652.95,569.19 L655.50,568.30 L658.04,567.39 L660.57,566.46 L663.08,565.51 L665.57,564.55 L668.05,563.56 L670.52,562.56 L672.97,561.53 L675.40,560.49 L677.82,559.43 L680.22,558.35 L682.60,557.26 L684.97,556.14 L687.32,555.01 L689.65,553.86 L691.97,552.70 L694.26,551.51 L696.54,550.31 L698.80,549.09 L701.04,547.86 L703.27,546.61 L705.47,545.34 L707.66,544.06 L709.82,542.76 L711.97,541.45 L714.09,540.12 L716.20,538.78 L718.28,537.42 L720.35,536.04 L722.39,534.66 L724.42,533.25 L726.42,531.84 L728.40,530.41 L730.36,528.96 L732.30,527.51 L734.22,526.04 L736.11,524.55 L737.99,523.06 L739.84,521.55 L741.67,520.03 L743.48,518.50 L745.27,516.95 L747.03,515.40 L748.77,513.83 L750.49,512.25 L752.18,510.66 L753.85,509.06 L755.50,507.45 L757.13,505.82 L758.73,504.19 L760.31,502.55 L761.87,500.90 L763.40,499.24 L764.91,497.57 L766.40,495.89 L767.86,494.20 L769.30,492.51 L770.71,490.80 L772.10,489.09 L773.47,487.37 L774.81,485.64 L776.13,483.91 L777.43,482.16 L778.70,480.41 L779.94,478.66 L781.17,476.89 L782.37,475.12 L783.54,473.35 L784.69,471.57 L785.82,469.78 L786.92,467.99 L788.00,466.19 L789.05,464.39 L790.08,462.58 L791.09,460.77 L792.07,458.95 L793.03,457.13 L793.96,455.30 L794.87,453.47 L795.76,451.64 L796.62,449.80 L797.46,447.96 L798.27,446.12 L799.06,444.28 L799.83,442.43 L800.57,440.58 L801.29,438.72 L801.98,436.87 L802.65,435.01 L803.30,433.15 L803.92,431.29Z" fill="url(#shade)"/>
<path d="M543.02,298.99 L543.02,132.00 L545.04,132.01 L547.06,132.03 L549.09,132.05 L551.11,132.09 L553.13,132.14 L555.16,132.20 L557.18,132.27 L559.20,132.35 L561.22,132.44 L563.24,132.54 L565.26,132.65 L567.28,132.77 L569.30,132.91 L571.32,133.05 L573.33,133.21 L575.35,133.37 L577.36,133.55 L579.37,133.73 L581.38,133.93 L583.39,134.14 L585.40,134.36 L587.40,134.59 L589.41,134.83 L591.41,135.08 L593.41,135.34 L595.41,135.61 L597.40,135.90 L599.40,136.19 L601.39,136.49 L603.38,136.81 L605.37,137.13 L607.35,137.47 L609.33,137.82 L611.31,138.17 L613.29,138.54 L615.26,138.92 L617.24,139.31 L619.20,139.71 L621.17,140.12 L623.13,140.54 L625.09,140.98 L627.05,141.42 L629.00,141.87 L630.95,142.34 L632.89,142.81 L634.83,143.30 L636.77,143.79 L638.71,144.30 L640.64,144.82 L642.56,145.35 L644.48,145.89 L646.40,146.43 L648.32,146.99 L650.23,147.57 L652.13,148.15 L654.03,148.74 L655.93,149.34 L657.82,149.95 L659.70,150.58 L661.59,151.21 L663.46,151.86 L665.33,152.51 L667.20,153.18 L669.06,153.86 L670.92,154.54 L672.77,155.24 L674.61,155.95 L676.45,156.67 L678.28,157.40 L680.11,158.14 L681.93,158.89 L683.75,159.65 L685.56,160.42 L687.36,161.21 L689.16,162.00 L690.95,162.80 L692.74,163.62 L694.51,164.44 L696.28,165.28 L698.05,166.12 L699.81,166.98 L701.56,167.85 L703.30,168.72 L705.04,169.61 L706.76,170.51 L708.49,171.42 L710.20,172.34 L711.91,173.27 L713.60,174.21 L715.29,175.16 L716.98,176.12 L718.65,177.09 L720.32,178.07 L721.98,179.06 L723.63,180.06 L725.27,181.08 L726.90,182.10 L728.52,183.13 L730.14,184.17 L731.75,185.23 L733.34,186.29 L734.93,187.37 L736.51,188.45 L738.08,189.54 L739.64,190.65 L741.19,191.76 L742.73,192.89 L744.26,194.02 L745.78,195.17 L747.29,196.32 L748.79,197.49 L750.28,198.66 L751.76,199.85 L753.23,201.04 L754.69,202.25 L756.14,203.46 L757.57,204.68 L759.00,205.92 L760.41,207.16 L761.82,208.42 L763.21,209.68 L764.59,210.95 L765.96,212.24 L767.31,213.53 L768.66,214.83 L769.99,216.15 L771.31,217.47 L772.62,218.80 L773.91,220.14 L775.20,221.49 L776.47,222.85 L777.73,224.22 L778.97,225.60 L780.20,226.98 L781.42,228.38 L782.62,229.79 L783.82,231.20 L784.99,232.63 L786.16,234.06 L787.31,235.50 L788.44,236.95 L789.57,238.41 L790.67,239.88 L791.77,241.36 L792.84,242.85 L793.91,244.34 L794.96,245.85 L795.99,247.36 L797.01,248.88 L798.01,250.41 L799.00,251.95 L799.97,253.50 L800.93,255.05 L801.87,256.62 L802.80,258.19 L803.70,259.77 L804.60,261.36 L805.47,262.95 L806.33,264.56 L807.18,266.17 L808.00,267.79 L808.81,269.41 L809.60,271.05 L810.38,272.69 L811.14,274.34 L811.88,276.00 L812.60,277.66 L813.30,279.33 L813.99,281.01 L814.66,282.70 L815.31,284.39 L815.94,286.09 L816.55,287.80 L817.15,289.51 L817.72,291.23 L818.28,292.95 L818.82,294.69 L819.34,296.43 L819.84,298.17 L820.32,299.92 L820.78,301.68 L821.22,303.44 L821.64,305.21 L822.04,306.99 L822.42,308.77 L822.78,310.55 L823.12,312.34 L823.44,314.14 L823.73,315.94 L824.01,317.75 L824.27,319.56 L824.50,321.38 L824.72,323.20 L824.91,325.02 L825.08,326.85 L825.23,328.69 L825.36,330.53 L825.46,332.37 L825.55,334.21 L825.61,336.06Z" fill="#5B9BD5"/>
<path d="M543.02,298.99 L825.61,336.06 L825.65,337.91 L825.67,339.76 L825.66,341.62 L825.63,343.48 L825.58,345.34 L825.51,347.20 L825.41,349.07 L825.29,350.94 L825.15,352.81 L824.99,354.69 L824.80,356.56 L824.59,358.44 L824.35,360.32 L824.09,362.20 L823.81,364.09 L823.50,365.97 L823.17,367.86 L822.82,369.74 L822.44,371.63 L822.04,373.52 L821.61,375.41 L821.16,377.30 L820.68,379.19 L820.18,381.08 L819.66,382.97 L819.11,384.86 L818.53,386.74 L817.93,388.63 L817.31,390.52 L816.66,392.40 L815.99,394.29 L815.29,396.17 L814.56,398.05 L813.81,399.93 L813.04,401.80 L812.24,403.68 L811.41,405.55 L810.56,407.42 L809.68,409.28 L808.78,411.15 L807.86,413.01 L806.90,414.86 L805.92,416.72 L804.92,418.56 L803.89,420.41 L802.83,422.25 L801.75,424.08 L800.65,425.91 L799.51,427.74 L798.35,429.56 L797.17,431.37 L795.96,433.18 L794.73,434.99 L793.46,436.78 L792.18,438.58 L790.86,440.36 L789.53,442.14 L788.16,443.91 L786.77,445.67 L785.36,447.43 L783.92,449.18 L782.45,450.92 L780.96,452.65 L779.45,454.37 L777.90,456.09 L776.34,457.79 L774.74,459.49 L773.13,461.18 L771.48,462.86 L769.82,464.53 L768.13,466.19 L766.41,467.83 L764.67,469.47 L762.90,471.10 L761.11,472.72 L759.29,474.32 L757.46,475.92 L755.59,477.50 L753.70,479.07 L751.79,480.63 L749.86,482.18 L747.90,483.71 L745.92,485.23 L743.91,486.74 L741.88,488.24 L739.83,489.72 L737.75,491.19 L735.66,492.64 L733.54,494.08 L731.39,495.51 L729.23,496.92 L727.04,498.31 L724.83,499.69 L722.60,501.06 L720.35,502.41 L718.08,503.75 L715.79,505.07 L713.47,506.37 L711.13,507.66 L708.78,508.93 L706.40,510.18 L704.01,511.42Z" fill="#ED7D31"/>
<path d="M543.02,298.99 L704.01,511.42 L701.58,512.64 L699.14,513.85 L696.68,515.04 L694.20,516.21 L691.70,517.36 L689.18,518.49 L686.64,519.61 L684.08,520.71 L681.51,521.79 L678.92,522.85 L676.31,523.89 L673.69,524.91 L671.05,525.91 L668.39,526.89 L665.72,527.85 L663.03,528.79 L660.32,529.72 L657.60,530.62 L654.87,531.50 L652.12,532.36 L649.36,533.20 L646.58,534.01 L643.79,534.81 L640.99,535.59 L638.18,536.34 L635.35,537.07 L632.51,537.78 L629.66,538.47 L626.79,539.14 L623.92,539.78 L621.04,540.41 L618.14,541.01 L615.24,541.58 L612.32,542.14 L609.40,542.67 L606.47,543.18 L603.53,543.67 L600.58,544.13 L597.62,544.57 L594.66,544.99 L591.69,545.39 L588.71,545.76 L585.73,546.11 L582.74,546.43 L579.75,546.73 L576.75,547.01 L573.75,547.26 L570.74,547.49 L567.73,547.70 L564.72,547.88 L561.70,548.04 L558.68,548.18 L555.66,548.29 L552.64,548.38 L549.61,548.44 L546.59,548.48 L543.56,548.50 L540.54,548.49 L537.51,548.46 L534.49,548.40 L531.46,548.32 L528.44,548.22 L525.42,548.09 L522.40,547.94 L519.39,547.77 L516.38,547.57 L513.37,547.35 L510.36,547.10 L507.36,546.83 L504.37,546.54 L501.38,546.23 L498.39,545.89 L495.42,545.52 L492.44,545.14 L489.48,544.73 L486.52,544.29 L483.57,543.84 L480.62,543.36 L477.69,542.86 L474.76,542.33 L471.85,541.79 L468.94,541.22 L466.04,540.63 L463.15,540.01 L460.27,539.37 L457.41,538.72 L454.55,538.03 L451.71,537.33 L448.88,536.61 L446.06,535.86 L443.25,535.09 L440.45,534.30 L437.67,533.49 L434.91,532.66 L432.15,531.81 L429.41,530.94 L426.69,530.04 L423.98,529.13 L421.28,528.19 L418.61,527.24 L415.94,526.26 L413.30,525.27 L410.66,524.26 L408.05,523.22 L405.45,522.17 L402.88,521.10 L400.31,520.01 L397.77,518.90 L395.24,517.77 L392.74,516.62 L390.25,515.46 L387.78,514.28 L385.33,513.08 L382.90,511.86 L380.49,510.63 L378.10,509.37 L375.73,508.10 L373.37,506.82 L371.05,505.52 L368.74,504.20 L366.45,502.87 L364.18,501.52 L361.94,500.15 L359.71,498.77 L357.51,497.37 L355.33,495.96 L353.18,494.54 L351.04,493.10 L348.93,491.64 L346.84,490.17 L344.78,488.69 L342.73,487.19 L340.71,485.68 L338.72,484.16 L336.75,482.63 L334.80,481.08 L332.87,479.52 L330.97,477.94 L329.09,476.36 L327.24,474.76 L325.41,473.16 L323.61,471.54 L321.83,469.91 L320.08,468.27 L318.35,466.61 L316.65,464.95Z" fill="#A5A5A5"/>
<path d="M543.02,298.99 L316.65,464.95 L314.96,463.28 L313.31,461.59 L311.67,459.90 L310.07,458.19 L308.49,456.48 L306.93,454.75 L305.40,453.02 L303.89,451.28 L302.42,449.54 L300.96,447.78 L299.53,446.02 L298.13,444.24 L296.76,442.46 L295.41,440.68 L294.08,438.89 L292.78,437.09 L291.51,435.28 L290.27,433.47 L289.05,431.65 L287.85,429.83 L286.68,428.00 L285.54,426.16 L284.42,424.32 L283.33,422.48 L282.27,420.63 L281.23,418.77 L280.22,416.92 L279.23,415.05 L278.27,413.19 L277.34,411.32 L276.43,409.45Z" fill="#FFC000"/>
<path d="M543.02,298.99 L276.43,409.45 L275.54,407.56 L274.68,405.68 L273.84,403.79 L273.04,401.90 L272.25,400.01 L271.50,398.11 L270.76,396.21 L270.06,394.32 L269.38,392.42 L268.72,390.51 L268.09,388.61 L267.49,386.71 L266.91,384.80 L266.36,382.90 L265.83,380.99 L265.33,379.09 L264.85,377.18 L264.39,375.27 L263.96,373.37 L263.56,371.46 L263.18,369.56 L262.82,367.66 L262.49,365.75 L262.19,363.85 L261.91,361.95 L261.65,360.05 L261.41,358.16 L261.20,356.26 L261.02,354.37 L260.85,352.48 L260.72,350.59 L260.60,348.71 L260.51,346.82 L260.44,344.94 L260.39,343.07 L260.37,341.19 L260.37,339.32 L260.39,337.45 L260.44,335.59 L260.51,333.73 L260.60,331.87 L260.71,330.02 L260.84,328.17 L261.00,326.33 L261.18,324.49 L261.38,322.65 L261.60,320.82 L261.84,319.00 L262.11,317.18 L262.39,315.36 L262.70,313.55 L263.03,311.74 L263.38,309.94 L263.75,308.15 L264.13,306.36 L264.54,304.58 L264.98,302.80 L265.43,301.03 L265.90,299.26 L266.39,297.50 L266.90,295.75 L267.43,294.00 L267.97,292.26 L268.54,290.53 L269.13,288.80 L269.74,287.08 L270.36,285.36 L271.00,283.66 L271.67,281.96Z" fill="#4472C4"/>
<path d="M543.02,298.99 L271.67,281.96 L272.35,280.25 L273.06,278.56 L273.78,276.87 L274.52,275.18 L275.28,273.51 L276.05,271.84 L276.85,270.18 L277.66,268.53 L278.49,266.88 L279.34,265.25 L280.20,263.62 L281.08,262.00 L281.98,260.39 L282.89,258.78 L283.82,257.19 L284.77,255.60 L285.73,254.02 L286.71,252.45 L287.71,250.89 L288.72,249.34 L289.75,247.80 L290.79,246.26 L291.85,244.73 L292.93,243.22 L294.01,241.71 L295.12,240.21 L296.24,238.72 L297.37,237.24 L298.52,235.76 L299.68,234.30 L300.86,232.85 L302.05,231.40 L303.26,229.97 L304.47,228.54 L305.71,227.13 L306.95,225.72 L308.21,224.32 L309.49,222.93 L310.77,221.56 L312.07,220.19 L313.38,218.83 L314.71,217.48 L316.05,216.14 L317.40,214.81 L318.76,213.49 L320.14,212.18 L321.52,210.88 L322.92,209.59 L324.33,208.31 L325.75,207.04 L327.19,205.78 L328.63,204.54 L330.09,203.30Z" fill="#70AD47"/>
<path d="M543.02,298.99 L330.09,203.30 L331.54,202.08 L333.01,200.87 L334.48,199.68 L335.97,198.49 L337.46,197.31 L338.97,196.15 L340.49,194.99 L342.01,193.84 L343.55,192.71 L345.10,191.58 L346.65,190.46 L348.22,189.36 L349.79,188.26 L351.38,187.18 L352.97,186.10 L354.57,185.04 L356.19,183.98 L357.81,182.94 L359.44,181.91 L361.08,180.88 L362.72,179.87 L364.38,178.87 L366.04,177.88 L367.72,176.89 L369.40,175.92 L371.09,174.96 L372.78,174.01 L374.49,173.07 L376.20,172.14 L377.92,171.22 L379.65,170.31 L381.38,169.41 L383.12,168.53 L384.87,167.65 L386.63,166.78 L388.39,165.93 L390.17,165.08 L391.94,164.25 L393.73,163.42 L395.52,162.61 L397.31,161.80 L399.12,161.01 L400.93,160.23 L402.74,159.46 L404.57,158.70 L406.39,157.95 L408.23,157.21 L410.07,156.48 L411.91,155.76 L413.77,155.05 L415.62,154.36 L417.48,153.67 L419.35,152.99 L421.23,152.33 L423.10,151.67 L424.99,151.03 L426.87,150.40 L428.77,149.77 L430.67,149.16 L432.57,148.56 L434.47,147.97 L436.39,147.39Z" fill="#255E91"/>
<path d="M543.02,298.99 L436.39,147.39 L438.32,146.82 L440.26,146.25 L442.21,145.70 L444.16,145.16 L446.11,144.63 L448.07,144.11 L450.03,143.60 L451.99,143.10 L453.96,142.61 L455.93,142.13 L457.91,141.67 L459.89,141.21 L461.87,140.77 L463.86,140.34 L465.85,139.92 L467.84,139.50 L469.84,139.10 L471.83,138.72 L473.84,138.34 L475.84,137.97 L477.85,137.61 L479.86,137.27 L481.87,136.94 L483.88,136.61 L485.90,136.30 L487.92,136.00 L489.94,135.71 L491.97,135.43 L493.99,135.16 L496.02,134.90 L498.05,134.66 L500.08,134.42 L502.12,134.20 L504.15,133.98 L506.19,133.78 L508.23,133.59 L510.26,133.41 L512.31,133.24 L514.35,133.08 L516.39,132.93 L518.43,132.79 L520.48,132.67 L522.53,132.55 L524.57,132.45 L526.62,132.35 L528.67,132.27 L530.72,132.20 L532.77,132.14 L534.82,132.09 L536.87,132.05 L538.92,132.03 L540.97,132.01 L543.02,132.00Z" fill="#9E480E"/>
<path d="M261.48,334.84 L261.55,333.01 L261.65,331.17 L261.76,329.35 L261.90,327.52 L262.06,325.70 L262.24,323.89 L262.44,322.08 L262.67,320.27 L262.91,318.47 L263.17,316.67 L263.46,314.88 L263.77,313.09 L264.09,311.31 L264.44,309.53 L264.81,307.76 L265.19,306.00 L265.60,304.24 L266.03,302.48 L266.47,300.73 L266.94,298.99 L267.42,297.25 L267.93,295.52 L268.45,293.80 L269.00,292.08 L269.56,290.37 L270.14,288.66 L270.74,286.97 L271.35,285.27 L271.99,283.59 L272.64,281.91 L273.31,280.24 L274.00,278.57 L274.71,276.92 L275.44,275.27 L276.18,273.62 L276.94,271.99 L277.71,270.36 L278.51,268.74 L279.32,267.12 L280.15,265.52 L280.99,263.92 L281.85,262.33 L282.73,260.75 L283.62,259.17 L284.53,257.61 L285.45,256.05 L286.39,254.50 L287.35,252.96 L288.32,251.42 L289.31,249.90 L290.31,248.38 L291.33,246.87 L292.36,245.37 L293.41,243.88 L294.47,242.40 L295.55,240.92 L296.64,239.46 L297.75,238.00 L298.87,236.55 L300.00,235.12 L301.15,233.69 L302.31,232.26 L303.48,230.85 L304.67,229.45 L305.87,228.05 L307.09,226.67 L308.31,225.29 L309.56,223.93 L310.81,222.57 L312.08,221.22 L313.35,219.88 L314.65,218.55 L315.95,217.23 L317.26,215.92 L318.59,214.62 L319.93,213.33 L321.28,212.05 L322.65,210.78 L324.02,209.52 L325.41,208.26 L326.81,207.02 L328.21,205.79 L329.63,204.56 L331.06,203.35 L332.51,202.14 L333.96,200.95 L335.42,199.76 L336.89,198.59 L338.38,197.42 L339.87,196.27 L341.38,195.12 L342.89,193.99 L344.41,192.86 L345.95,191.75 L347.49,190.64 L349.04,189.55 L350.60,188.46 L352.18,187.39 L353.76,186.32 L355.35,185.27 L356.94,184.23 L358.55,183.19 L360.17,182.17 L361.79,181.15 L363.43,180.15 L365.07,179.16 L366.72,178.17 L368.38,177.20 L370.04,176.24 L371.72,175.28 L373.40,174.34 L375.09,173.41 L376.78,172.49 L378.49,171.58 L380.20,170.68 L381.92,169.79 L383.65,168.91 L385.38,168.04 L387.12,167.18 L388.87,166.33 L390.63,165.49 L392.39,164.66 L394.16,163.84 L395.93,163.04 L397.71,162.24 L399.50,161.45 L401.29,160.68 L403.09,159.91 L404.90,159.16 L406.71,158.41 L408.53,157.68 L410.35,156.95 L412.18,156.24 L414.01,155.54 L415.85,154.85 L417.70,154.16 L419.55,153.49 L421.41,152.83 L423.27,152.18 L425.13,151.54 L427.00,150.91 L428.88,150.29 L430.76,149.69 L432.65,149.09 L434.54,148.50 L436.43,147.92 L438.33,147.36 L440.23,146.80 L442.14,146.26 L444.05,145.72 L445.97,145.20 L447.88,144.69 L449.81,144.18 L451.73,143.69 L453.66,143.21 L455.60,142.74 L457.54,142.28 L459.48,141.83 L461.42,141.39 L463.37,140.96 L465.32,140.54 L467.27,140.14 L469.23,139.74 L471.19,139.35 L473.15,138.98 L475.12,138.61 L477.09,138.26 L479.06,137.91 L481.03,137.58 L483.01,137.26 L484.98,136.94 L486.97,136.64 L488.95,136.35 L490.93,136.07 L492.92,135.80 L494.91,135.54 L496.90,135.29 L498.89,135.05 L500.88,134.83 L502.88,134.61 L504.88,134.40 L506.88,134.21 L508.88,134.02 L510.88,133.85 L512.88,133.68 L514.88,133.53 L516.89,133.39 L518.90,133.25 L520.90,133.13 L522.91,133.02 L524.92,132.92 L526.93,132.83 L528.94,132.75 L530.95,132.68 L532.96,132.62 L534.97,132.58 L536.98,132.54 L538.99,132.51 L541.00,132.50 L543.02,132.49 L545.03,132.50 L547.04,132.51 L549.05,132.54 L551.06,132.58 L553.08,132.62 L555.09,132.68 L557.10,132.75 L559.11,132.83 L561.12,132.92 L563.12,133.02 L565.13,133.13 L567.14,133.25 L569.14,133.39 L571.15,133.53 L573.15,133.68 L575.16,133.85 L577.16,134.02 L579.16,134.21 L581.16,134.40 L583.15,134.61 L585.15,134.83 L587.14,135.05 L589.14,135.29 L591.13,135.54 L593.11,135.80 L595.10,136.07 L597.09,136.35 L599.07,136.64 L601.05,136.94 L603.03,137.26 L605.00,137.58 L606.98,137.91 L608.95,138.26 L610.91,138.61 L612.88,138.98 L614.84,139.35 L616.80,139.74 L618.76,140.14 L620.71,140.54 L622.66,140.96 L624.61,141.39 L626.56,141.83 L628.50,142.28 L630.43,142.74 L632.37,143.21 L634.30,143.69 L636.23,144.18 L638.15,144.69 L640.07,145.20 L641.98,145.72 L643.89,146.26 L645.80,146.80 L647.70,147.36 L649.60,147.92 L651.50,148.50 L653.39,149.09 L655.27,149.69 L657.15,150.29 L659.03,150.91 L660.90,151.54 L662.77,152.18 L664.63,152.83 L666.48,153.49 L668.33,154.16 L670.18,154.85 L672.02,155.54 L673.85,156.24 L675.68,156.95 L677.51,157.68 L679.32,158.41 L681.14,159.16 L682.94,159.91 L684.74,160.68 L686.53,161.45 L688.32,162.24 L690.10,163.04 L691.88,163.84 L693.65,164.66 L695.41,165.49 L697.16,166.33 L698.91,167.18 L700.65,168.04 L702.39,168.91 L704.11,169.79 L705.83,170.68 L707.54,171.58 L709.25,172.49 L710.95,173.41 L712.64,174.34 L714.32,175.28 L715.99,176.24 L717.66,177.20 L719.32,178.17 L720.97,179.16 L722.61,180.15 L724.24,181.15 L725.87,182.17 L727.48,183.19 L729.09,184.23 L730.69,185.27 L732.28,186.32 L733.86,187.39 L735.43,188.46 L736.99,189.55 L738.54,190.64 L740.09,191.75 L741.62,192.86 L743.14,193.99 L744.66,195.12 L746.16,196.27 L747.66,197.42 L749.14,198.59 L750.61,199.76 L752.07,200.95 L753.53,202.14 L754.97,203.35 L756.40,204.56 L757.82,205.79 L759.23,207.02 L760.63,208.26 L762.01,209.52 L763.39,210.78 L764.75,212.05 L766.10,213.33 L767.44,214.62 L768.77,215.92 L770.08,217.23 L771.39,218.55 L772.68,219.88 L773.96,221.22 L775.22,222.57 L776.48,223.93 L777.72,225.29 L778.95,226.67 L780.16,228.05 L781.36,229.45 L782.55,230.85 L783.73,232.26 L784.89,233.69 L786.03,235.12 L787.17,236.55 L788.29,238.00 L789.39,239.46 L790.48,240.92 L791.56,242.40 L792.62,243.88 L793.67,245.37 L794.70,246.87 L795.72,248.38 L796.72,249.90 L797.71,251.42 L798.68,252.96 L799.64,254.50 L800.58,256.05 L801.50,257.61 L802.41,259.17 L803.31,260.75 L804.18,262.33 L805.04,263.92 L805.89,265.52 L806.71,267.12 L807.53,268.74 L808.32,270.36 L809.10,271.99 L809.86,273.62 L810.60,275.27 L811.32,276.92 L812.03,278.57 L812.72,280.24 L813.39,281.91 L814.04,283.59 L814.68,285.27 L815.30,286.97 L815.90,288.66 L816.48,290.37 L817.04,292.08 L817.58,293.80 L818.10,295.52 L818.61,297.25 L819.09,298.99 L819.56,300.73 L820.01,302.48 L820.43,304.24 L820.84,306.00 L821.23,307.76 L821.59,309.53 L821.94,311.31 L822.27,313.09 L822.57,314.88 L822.86,316.67 L823.12,318.47 L823.37,320.27 L823.59,322.08 L823.79,323.89 L823.97,325.70 L824.13,327.52 L824.27,329.35 L824.39,331.17 L824.48,333.01 L824.55,334.84" fill="none" stroke="#000" stroke-width="1.3" opacity="0.13"/>
<g stroke="#a3a3a3" stroke-width="1.5" fill="none">
<path d="M488,123 L488,135"/>
<path d="M784,135 L775,135 L732.5,184"/>
<path d="M832.5,464 L822.5,464 L785.5,472.6"/>
<path d="M216,531 L225.5,531 L306,481.5"/>
<path d="M229,379 L239.3,379 L259.5,346.5"/>
<path d="M213.7,252.6 L224,252.6 L293,239.8"/>
<path d="M339,150.6 L348.7,150.6 L379.8,170.3"/>
</g>
</svg>
<div class="lb" style="left:453px;top:65px;width:91px;height:58px;padding-top:4.2px;"><div class="c">其他行业</div><div class="p"><span>8%</span></div></div>
<div class="lb" style="left:784px;top:109px;width:52px;height:58px;padding-top:4.2px;"><div class="c">电子</div><div class="p"><span>28%</span></div></div>
<div class="lb" style="left:832px;top:438px;width:53px;height:58px;padding-top:4.2px;"><div class="c">机械</div><div class="p"><span>14%</span></div></div>
<div class="lb" style="left:460px;top:480px;width:91px;height:56px;padding-top:1.0px;background:rgba(234,234,234,0.92);border-color:transparent;"><div class="c">光学仪器</div><div class="p"><span>20%</span></div></div>
<div class="lb" style="left:125px;top:505px;width:91px;height:58px;padding-top:4.2px;"><div class="c">能源化工</div><div class="p"><span>4%</span></div></div>
<div class="lb" style="left:59px;top:353px;width:170px;height:58px;padding-top:4.2px;"><div class="c">计算机、信息通讯</div><div class="p"><span>10%</span></div></div>
<div class="lb" style="left:25px;top:227px;width:189px;height:58px;padding-top:4.2px;"><div class="c">航空航天、国防军工</div><div class="p"><span>7%</span></div></div>
<div class="lb" style="left:70px;top:114px;width:269px;height:69px;padding-top:9px;"><div class="c">高校、政府机构、事业单位</div><div class="p"><span>9%</span></div></div>
<div class="lg"></div>
<div class="mk" style="left:165.5px;top:634.5px;background:#5B9BD5"></div><div class="li" style="left:182px;top:628px">电子</div>
<div class="mk" style="left:420.5px;top:634.5px;background:#ED7D31"></div><div class="li" style="left:437px;top:628px">机械</div>
<div class="mk" style="left:677.5px;top:634.5px;background:#A5A5A5"></div><div class="li" style="left:694px;top:628px">光学仪器</div>
<div class="mk" style="left:165.5px;top:671.5px;background:#FFC000"></div><div class="li" style="left:182px;top:665px">能源化工</div>
<div class="mk" style="left:420.5px;top:671.5px;background:#4472C4"></div><div class="li" style="left:437px;top:665px">计算机、信息通讯</div>
<div class="mk" style="left:677.5px;top:671.5px;background:#70AD47"></div><div class="li" style="left:694px;top:665px">航空航天、国防军工</div>
<div class="mk" style="left:165.5px;top:708.5px;background:#255E91"></div><div class="li" style="left:182px;top:702px">高校、政府机构、事业单位</div>
<div class="mk" style="left:420.5px;top:708.5px;background:#9E480E"></div><div class="li" style="left:437px;top:702px">其他行业</div>
</body></html>
